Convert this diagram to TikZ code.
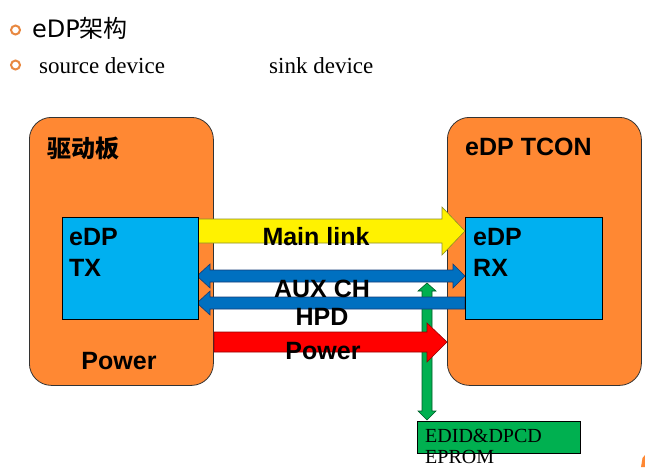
\documentclass[tikz,border=0pt]{standalone}
\usepackage{fontspec}
\setmainfont{Liberation Serif}
\newfontfamily\arialfont{Liberation Sans}
\newfontfamily\cjk{Noto Sans CJK SC}
\newfontfamily\titlefont{DejaVu Sans}
\usetikzlibrary{calc}
\definecolor{boardorange}{RGB}{255,136,51}
\definecolor{chipblue}{RGB}{0,176,240}
\definecolor{linkblue}{RGB}{0,112,192}
\definecolor{linkblueline}{RGB}{20,60,120}
\definecolor{arrowgreen}{RGB}{0,176,80}
\definecolor{arrowgreenline}{RGB}{0,90,40}
\definecolor{bulletorange}{RGB}{232,136,64}
\definecolor{yellowline}{RGB}{140,140,40}
\definecolor{redline}{RGB}{150,0,0}
\tikzset{
  board/.style={draw=black!80, line width=0.8pt, fill=boardorange, rounded corners=22pt, inner sep=0pt, anchor=north west},
  chip/.style={draw=black, line width=0.8pt, fill=chipblue, inner sep=0pt, anchor=north west},
  memory/.style={draw=black, line width=0.8pt, fill=arrowgreen, inner sep=0pt, anchor=north west},
  boldlabel/.style={font=\arialfont\bfseries\fontsize{25}{30}\selectfont, inner sep=0pt},
  yellowarrow/.style={draw=yellowline, line width=0.6pt, fill=yellow},
  bluearrow/.style={draw=linkblueline, line width=0.6pt, fill=linkblue},
  redarrow/.style={draw=redline, line width=0.6pt, fill=red},
  greenarrow/.style={draw=arrowgreenline, line width=0.6pt, fill=arrowgreen},
  bulletring/.style={draw=bulletorange, line width=2pt, fill=white},
}
\begin{document}
\begin{tikzpicture}[x=1pt,y=-1pt]
\useasboundingbox (0,0) rectangle (645,467);
% header
\draw[bulletring] (15.5,30) circle (4.5);
\draw[bulletring] (15.5,65) circle (4.5);
\node[anchor=base west, inner sep=0pt, font=\titlefont\fontsize{24}{28}\selectfont] (title) at (32,37) {eDP{\cjk 架构}};
\node[anchor=base west, inner sep=0pt, font=\fontsize{23}{28}\selectfont] (source) at (39,73) {source device};
\node[anchor=base west, inner sep=0pt, font=\fontsize{23}{28}\selectfont] (sink) at (269,73) {sink device};
% boards
\node[board, minimum width=184, minimum height=268] (src) at (29,117) {};
\node[board, minimum width=194, minimum height=268] (dst) at (447,117) {};
\node[anchor=west, inner sep=0pt, font=\cjk\bfseries\fontsize{24}{28}\selectfont] (srclabel) at (47,148) {驱动板};
\node[boldlabel, anchor=base west] (dstlabel) at (465,155) {eDP TCON};
\node[boldlabel, anchor=base] (srcpower) at (119,369) {Power};
% green EDID arrow (behind others)
\draw[greenarrow] (427,283) -- (436,291) -- (432,291) -- (432,411) -- (436,411)
   -- (427,420) -- (418,411) -- (422,411) -- (422,291) -- (418,291) -- cycle;
% EDID box
\node[memory, minimum width=163, minimum height=32] (eprom) at (417,421) {};
\node[anchor=base west, inner sep=0pt, font=\fontsize{20}{24}\selectfont] (epromA) at (425,442) {EDID\&DPCD};
\node[anchor=base west, inner sep=0pt, font=\fontsize{20}{24}\selectfont] (epromB) at (425,463) {EPROM};
% main link
\draw[yellowarrow] (198,219) -- (442,219) -- (442,207) -- (465,231) -- (442,255) -- (442,243) -- (198,243) -- cycle;
% AUX CH
\draw[bluearrow] (197,276) -- (210,264) -- (210,270) -- (453,270) -- (453,264) -- (465,276)
   -- (453,288) -- (453,282) -- (210,282) -- (210,288) -- cycle;
% HPD
\draw[bluearrow] (197,303) -- (210,291) -- (210,297) -- (465,297) -- (465,309) -- (210,309) -- (210,315) -- cycle;
% Power
\draw[redarrow] (214,332) -- (427,332) -- (427,323) -- (447,342) -- (427,362) -- (427,352) -- (214,352) -- cycle;
% chips
\node[chip, minimum width=136, minimum height=102] (tx) at (62,217) {};
\node[chip, minimum width=137, minimum height=102] (rx) at (465,217) {};
\node[boldlabel, anchor=base west] (txA) at (69,245) {eDP};
\node[boldlabel, anchor=base west] (txB) at (69,276) {TX};
\node[boldlabel, anchor=base west] (rxA) at (473,245) {eDP};
\node[boldlabel, anchor=base west] (rxB) at (473,276) {RX};
% link labels
\node[boldlabel, anchor=base] (mainlbl) at (316,245) {Main link};
\node[boldlabel, anchor=base] (auxlbl) at (322,297) {AUX CH};
\node[boldlabel, anchor=base] (hpdlbl) at (322,325) {HPD};
\node[boldlabel, anchor=base] (pwrlbl) at (323,359) {Power};
% corner fragment
\fill[boardorange] (641,467) -- (642.5,458) -- (645,455) -- (645,467) -- cycle;
\end{tikzpicture}
\end{document}
